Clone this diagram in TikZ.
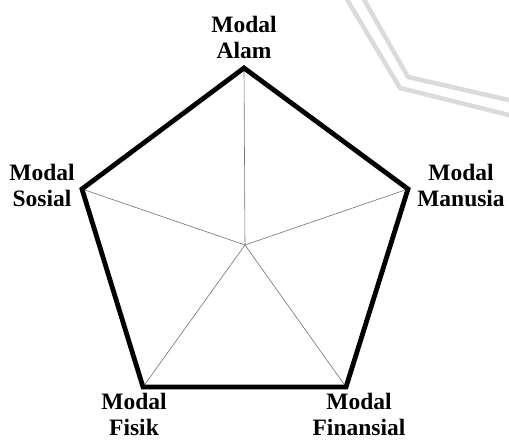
\documentclass[tikz,border=0pt]{standalone}
\usepackage{fontspec}
\setmainfont{Liberation Serif}
\begin{document}
\begin{tikzpicture}[x=1pt,y=-1pt,
  rim/.style={line width=4.8pt,line join=miter,draw=black},
  spoke/.style={line width=0.6pt,draw=black!55},
  lbl/.style={font=\fontsize{23.5}{26}\selectfont\bfseries,align=center,inner sep=0pt,anchor=base},
  wm/.style={line width=4.5pt,draw=black!14}]
\useasboundingbox[fill=white] (0,0) rectangle (509,441);
% watermark
\draw[wm] (345,-4) -- (400,88) -- (513,116);
\draw[wm] (362,-4) -- (408,77) -- (513,101);
% vertices
\coordinate (c) at (245,245);
\coordinate (vA) at (244,68);
\coordinate (vM) at (408,189);
\coordinate (vFn) at (346,387);
\coordinate (vFs) at (143,387);
\coordinate (vS) at (82,189);
% spokes
\foreach \v in {vA,vM,vFn,vFs,vS} \draw[spoke] (c) -- (\v);
% rim
\draw[rim] (vA) -- (vM) -- (vFn) -- (vFs) -- (vS) -- cycle;
% labels
\node[lbl] (alam) at (244,59) {Modal\\Alam};
\node[lbl] (sosial) at (42,207) {Modal\\Sosial};
\node[lbl] (manusia) at (461,207) {Modal\\Manusia};
\node[lbl] (fisik) at (134,435) {Modal\\Fisik};
\node[lbl] (finansial) at (359,435) {Modal\\Finansial};
\end{tikzpicture}
\end{document}
